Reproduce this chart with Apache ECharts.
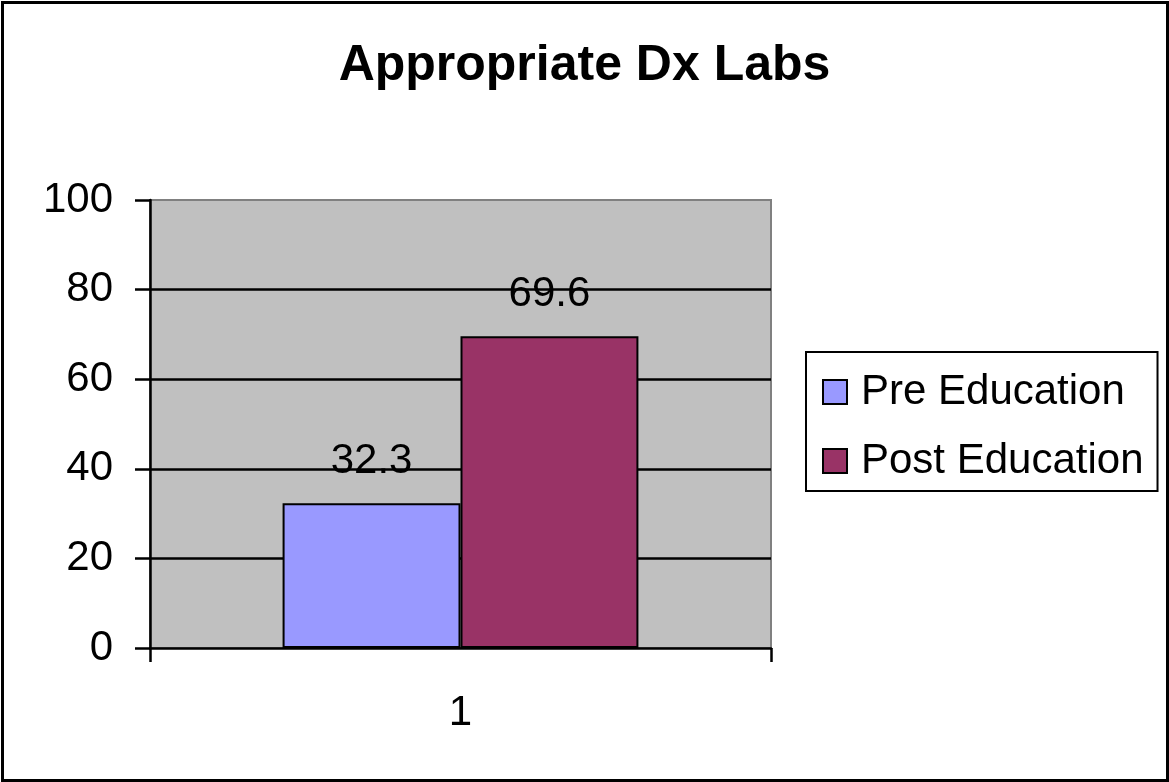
<!DOCTYPE html>
<html>
<head>
<meta charset="utf-8">
<script src="https://cdn.jsdelivr.net/npm/echarts@6/dist/echarts.min.js"></script>
<style>
html,body{margin:0;padding:0;background:#fff;}
#chart{width:1169px;height:782px;}
</style>
</head>
<body>
<div id="chart"></div>
<script>
const title = 'Appropriate Dx Labs';
const categories = ['1'];
const seriesNames = ['Pre Education', 'Post Education'];
const preValues = [32.3];
const postValues = [69.6];
const seriesColors = ['#9999FF', '#993366'];
const yMin = 0, yMax = 100, yInterval = 20;

const FONT = '"Liberation Sans", Arial, sans-serif';
const chart = echarts.init(document.getElementById('chart'));

const seriesData = [preValues, postValues];
const option = {
  backgroundColor: '#ffffff',
  animation: false,
  title: {
    text: title,
    left: 'center',
    top: 36,
    textStyle: { fontFamily: FONT, fontSize: 50, fontWeight: 'bold', color: '#000' }
  },
  graphic: [{
    type: 'rect',
    left: 0, top: 0, z: 100, silent: true,
    shape: { x: 1.5, y: 1.5, width: 1165, height: 778 },
    style: { fill: null, stroke: '#000', lineWidth: 3 }
  }],
  legend: {
    orient: 'vertical',
    left: 806,
    top: 352,
    padding: [19, 14, 9, 16],
    itemGap: 27,
    itemWidth: 24,
    itemHeight: 24,
    icon: 'rect',
    borderColor: '#000',
    borderWidth: 2,
    backgroundColor: '#fff',
    itemStyle: { borderColor: '#000', borderWidth: 2 },
    textStyle: { fontFamily: FONT, fontSize: 42, color: '#000', padding: [0, 0, 0, 9] },
    data: seriesNames
  },
  grid: {
    left: 150, right: 398, top: 200, bottom: 134,
    show: true,
    backgroundColor: '#C0C0C0',
    borderColor: '#808080',
    borderWidth: 2
  },
  xAxis: {
    type: 'category',
    data: categories,
    axisLine: { lineStyle: { color: '#000', width: 2.5 } },
    axisTick: { show: true, length: 14, lineStyle: { color: '#000', width: 2.5 } },
    axisLabel: { fontFamily: FONT, fontSize: 42, color: '#000', margin: 44 },
    splitLine: { show: false }
  },
  yAxis: {
    type: 'value',
    min: yMin, max: yMax, interval: yInterval,
    axisLine: { show: true, lineStyle: { color: '#000', width: 2.5 } },
    axisTick: { show: true, length: 15, lineStyle: { color: '#000', width: 2.5 } },
    axisLabel: { fontFamily: FONT, fontSize: 42, color: '#000', margin: 37 },
    splitLine: { show: true, showMinLine: false, showMaxLine: false, lineStyle: { color: '#000', width: 2.5 } }
  },
  series: seriesNames.map((name, i) => ({
    name: name,
    type: 'bar',
    data: seriesData[i],
    barGap: 0,
    barCategoryGap: '42.7%',
    itemStyle: { color: seriesColors[i], borderColor: '#000', borderWidth: 2 },
    label: {
      show: true,
      position: 'top',
      distance: 21,
      fontFamily: FONT,
      fontSize: 42,
      color: '#000'
    }
  }))
};
chart.setOption(option);
</script>
</body>
</html>
